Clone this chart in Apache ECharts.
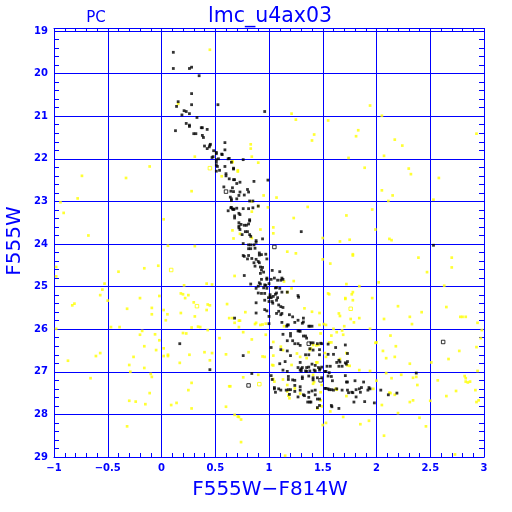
<!DOCTYPE html>
<html>
<head>
<meta charset="utf-8">
<script src="https://cdn.jsdelivr.net/npm/echarts@6/dist/echarts.min.js"></script>
<style>html,body{margin:0;padding:0;background:#fff}#c{width:512px;height:512px}</style>
</head>
<body>
<div id="c"></div>
<script>
var titleText = 'lmc_u4ax03';
var subText = 'PC';
var xName = 'F555W\u2212F814W';
var yName = 'F555W';
var xRange = [-1, 3];
var yRange = [19, 29];

var blackStars = [
[0.11,19.50],[0.11,19.88],[0.26,19.88],[0.28,19.85],[0.35,20.05],[0.28,20.47],[0.155,20.66],[0.14,20.77],[0.28,20.73],[0.525,20.73],
[0.21,20.87],[0.23,20.89],[0.26,20.94],[0.19,20.97],[0.33,21.03],[0.13,21.34],[0.23,21.17],[0.26,21.21],[0.26,21.24],[0.30,21.41],
[0.32,21.41],[0.37,21.27],[0.38,21.27],[0.425,21.31],[0.38,21.45],[0.39,21.50],[0.40,21.70],[0.45,21.68],[0.455,21.66],[0.445,21.72],
[0.425,21.76],[0.485,21.81],[0.51,21.85],[0.51,21.88],[0.565,21.90],[0.59,21.62],[0.59,21.79],[0.62,22.0],[0.47,21.97],[0.51,22.02],
[0.51,22.08],[0.53,22.0],[0.52,22.18],[0.59,22.18],[0.65,22.08],[0.67,22.24],[0.96,20.89],
[0.48,21.95],[0.51,22.15],[0.56,21.89],[0.63,21.99],[0.67,22.22],[0.54,22.27],[0.51,22.29],[0.60,22.35],[0.60,22.40],[0.63,22.47],
[0.67,22.49],[0.70,22.58],[0.58,22.66],[0.66,22.68],[0.67,22.77],[0.64,22.90],[0.65,22.98],[0.70,22.94],[0.72,22.86],[0.65,23.14],
[0.62,23.22],[0.66,23.18],[0.675,23.18],[0.70,23.16],[0.68,23.34],[0.72,23.28],[0.72,23.58],[0.72,23.62],
[0.76,22.02],[0.73,22.55],[0.68,22.49],[0.86,22.53],[0.99,22.50],[0.645,22.76],[0.73,22.78],[0.77,22.85],[0.81,22.78],[0.80,22.72],
[0.65,22.94],[0.82,22.99],[0.85,22.99],[0.645,23.15],[0.67,23.19],[0.76,23.17],[0.81,23.17],[0.85,23.15],[0.90,23.11],[0.68,23.39],
[0.73,23.31],[0.82,23.43],[0.82,23.46],[0.72,23.50],[0.74,23.54],[0.77,23.56],[0.79,23.56],[0.81,23.53],[0.73,23.66],[0.78,23.71],
[0.80,23.71],[0.82,23.78],[0.83,23.82],[0.75,23.78],[1.30,23.71],[0.94,23.88],[0.88,23.92],[0.88,23.96],[0.76,23.99],[0.81,24.02],
[0.83,24.02],[0.86,24.02],[0.81,24.11],[0.83,24.11],[0.87,24.10],[0.91,24.21],[0.91,24.26],[0.76,24.27],[0.77,24.29],[0.81,24.27],
[0.84,24.34],[0.80,24.35],[0.93,24.25],[0.97,24.24],[0.98,24.35],[0.88,24.36],[0.86,24.44],[0.90,24.41],[0.91,24.44],[0.87,24.52],
[0.92,24.54],[0.94,24.55],[0.93,24.61],[0.95,24.66],[0.77,24.74],[0.92,24.69],[1.10,24.65],[1.03,24.62],[0.98,24.80],[0.98,24.83],
[1.02,24.83],[0.93,24.83],[1.05,24.80],[1.08,24.85],[1.11,24.85],[1.12,24.80],[1.13,24.83],[0.91,24.91],[0.92,24.94],[0.90,24.99],
[0.96,24.96],[0.97,24.97],[1.0,24.93],[0.83,24.94],[0.88,25.04],[0.95,25.03],[0.98,25.04],[1.06,25.03],[1.07,25.02],[1.10,25.04],
[0.90,25.15],[0.93,25.16],[0.96,25.16],[1.01,25.19],[1.01,25.24],[1.06,25.18],[1.07,25.15],[1.04,25.23],[1.08,25.26],[0.995,25.26],
[1.02,25.26],[1.27,25.21],[1.275,25.25],[2.53,24.03],[1.12,25.13],[1.17,25.13],
[0.96,25.32],[1.0,25.35],[1.03,25.35],[1.035,25.39],[1.07,25.32],[1.09,25.43],[1.11,25.47],[1.13,25.49],[0.88,25.38],[0.96,25.54],
[0.98,25.57],[0.88,25.62],[1.09,25.58],[1.07,25.63],[1.0,25.70],[1.11,25.66],[1.12,25.63],[1.19,25.66],[1.22,25.71],[1.24,25.84],
[1.27,25.79],[1.32,25.74],[1.37,25.93],[1.38,25.93],[1.40,25.93],[1.31,25.86],[1.32,25.83],[1.12,25.84],[1.0,25.87],[1.17,25.90],
[1.165,25.93],[1.18,25.90],[1.27,26.04],[1.28,26.04],[1.29,26.05],[1.20,26.10],[1.20,26.16],[1.13,26.12],[1.32,26.16],[1.34,26.16],
[1.35,26.21],[1.17,26.27],[1.22,26.27],[1.24,26.34],[1.27,26.34],[1.39,26.32],[1.41,26.32],[1.48,26.33],[1.49,26.34],[1.45,26.34],
[1.02,26.43],[1.11,26.48],[1.17,26.51],[1.29,26.38],[1.38,26.46],[1.41,26.49],[1.47,26.48],[1.55,26.35],[1.62,26.43],[1.71,26.37],
[1.55,26.59],[1.60,26.59],[1.37,26.60],[1.34,26.60],[1.47,26.60],[1.73,26.57],[1.20,26.62],[1.29,26.78],[1.10,26.81],[1.15,26.76],
[1.27,26.90],[1.30,26.93],[1.31,26.90],[1.35,26.90],[1.37,26.89],[1.40,26.82],[1.43,26.85],[1.46,26.90],[1.49,26.89],[1.475,26.93],
[1.54,26.87],[1.57,26.87],[1.63,26.78],[1.65,26.73],[1.66,26.77],[1.71,26.79],[1.72,26.82],[1.73,26.76],[1.68,26.87],[1.65,26.87],
[1.13,26.96],[1.17,26.99],[1.29,26.96],[1.30,26.98],[1.34,26.98],[1.35,26.99],[1.38,26.98],[1.42,26.96],[1.43,26.98],[1.47,26.96],
[1.52,26.99],[1.53,26.99],[1.56,27.02],[0.84,27.04],[0.76,26.62],[1.02,27.09],[1.03,27.18],[1.18,27.11],[1.18,27.18],[1.24,27.20],
[1.22,27.19],[1.24,27.32],[1.31,27.12],[1.31,27.16],[1.37,27.10],[1.41,27.14],[1.41,27.19],[1.45,27.14],[1.49,27.14],[1.55,27.10],
[1.58,27.11],[1.59,27.21],[1.72,27.24],[1.73,27.24],[1.80,27.21],[1.88,27.24],[1.71,27.09],[2.37,27.03],[1.05,27.37],[1.05,27.40],
[1.06,27.48],[1.09,27.40],[1.11,27.43],[1.16,27.43],[1.18,27.42],[1.20,27.42],[1.24,27.46],[1.29,27.35],[1.29,27.43],[1.32,27.54],
[1.33,27.56],[1.37,27.48],[1.40,27.45],[1.43,27.43],[1.43,27.54],[1.45,27.64],[1.47,27.64],[1.37,27.60],[1.27,27.59],[1.19,27.53],
[1.38,27.71],[1.36,27.71],[1.39,27.71],[1.45,27.84],[1.47,27.79],[1.52,27.39],[1.53,27.39],[1.55,27.40],[1.56,27.42],[1.58,27.42],
[1.60,27.43],[1.63,27.40],[1.68,27.43],[1.73,27.43],[1.74,27.49],[1.77,27.48],[1.78,27.49],[1.81,27.42],[1.84,27.40],[1.85,27.48],
[1.86,27.37],[1.92,27.43],[1.93,27.37],[1.94,27.40],[1.81,27.59],[1.79,27.71],[1.89,27.70],[1.98,27.73],[2.04,27.43],[2.11,27.54],
[2.19,27.50],[1.58,27.79],[1.585,27.82],[1.65,27.86],
[0.17,26.34],[0.45,26.95],[0.68,25.74]
];

var yellowStars = [
[0.45,19.44],[0.155,20.71],[0.31,21.95],[-0.11,22.18],[0.66,22.08],
[-0.74,22.40],[-0.33,22.45],[-0.78,22.93],[-0.94,23.02],[-0.91,23.27],[0.28,22.76],[0.02,23.42],[-0.68,23.80],[0.06,24.04],[0.31,24.05],
[0.66,23.68],[0.67,23.87],[0.71,22.27],[0.56,22.41],[-0.98,24.54],[-0.98,24.76],[-0.40,24.65],[-0.16,24.57],[-0.03,24.51],[0.68,24.75],
[-0.53,24.93],[-0.55,25.07],[-0.57,25.20],[-0.20,25.27],[-0.02,25.22],[0.21,24.97],[0.18,25.16],[0.20,25.18],[0.25,25.20],[0.22,25.27],
[0.42,24.93],[0.47,24.95],
[1.21,20.94],[1.25,21.08],[1.55,21.10],[1.94,20.75],[2.05,20.99],[1.42,21.43],[1.40,21.57],[1.83,21.33],[1.81,21.47],[2.17,21.55],
[2.24,21.69],[0.83,21.66],[0.83,21.76],[0.84,21.95],[0.90,22.09],[1.74,21.98],[2.07,21.93],[1.89,22.21],[2.30,22.23],[2.93,21.41],
[0.66,22.06],[0.71,22.30],[2.32,22.36],[2.58,22.45],[2.05,22.74],[2.15,22.86],[2.11,22.99],[2.53,22.96],[0.95,22.86],[1.07,22.91],
[0.84,23.0],[0.99,23.14],[0.90,23.11],[1.36,23.13],[1.96,23.19],[0.84,23.24],[1.72,23.33],[1.23,23.39],[1.04,23.61],[1.04,23.75],
[0.92,23.66],[0.84,23.86],[0.73,23.76],[1.99,23.66],[1.75,23.90],[1.66,23.94],[1.50,23.86],[2.12,23.88],[2.14,23.91],[1.17,24.18],
[1.25,24.22],[1.78,24.24],[1.78,24.27],[1.57,24.46],[1.50,24.36],[2.39,24.32],[2.70,24.32],[2.70,24.55],[2.47,24.66],[2.02,24.90],
[1.72,24.94],[1.84,24.99],[2.63,24.98],[1.23,24.87],[1.14,24.88],[1.21,25.04],[1.17,25.13],[1.55,25.16],[1.71,25.27],[1.78,25.13],
[1.96,25.27],
[-0.50,25.33],[-0.83,25.44],[-0.81,25.40],[-0.32,25.52],[-0.09,25.50],[-0.09,25.65],[0.02,25.55],[0.055,25.65],[0.04,25.79],[0.30,25.37],
[0.43,25.42],[0.45,25.44],[0.31,25.70],[0.18,25.62],[0.42,25.55],[0.61,25.41],[0.66,25.74],[0.72,25.80],[0.72,25.95],[-0.47,25.95],
[-0.39,25.95],[-0.98,25.99],[-0.18,26.04],[-0.20,26.13],[-0.06,26.12],[-0.02,26.26],[0.20,26.09],[0.23,26.10],[0.28,25.96],[0.34,25.94],
[0.36,25.95],[0.43,26.02],[0.54,26.21],[-0.16,26.40],[0.02,26.45],[-0.05,26.49],[0.02,26.63],[0.06,26.63],[0.06,26.60],[-0.57,26.56],
[-0.61,26.63],[-0.87,26.74],[-0.26,26.65],[-0.30,26.84],[-0.29,27.0],[-0.16,26.91],[0.17,26.79],[0.26,26.60],[0.40,26.54],[0.45,26.73],
[0.47,26.56],[0.60,26.59],[-0.66,27.15],[-0.10,27.05],[-0.09,27.12],[0.28,27.26],[0.25,27.43],[0.64,27.34],[-0.11,27.50],[-0.30,27.68],
[-0.24,27.70],[-0.15,27.76],[0.09,27.78],[0.14,27.73],[0.28,27.86],[0.60,27.82],[0.68,28.01],[0.72,28.06],[-0.32,28.28],
[0.63,25.74],[0.68,25.85],[0.73,25.80],[0.87,25.88],[0.88,25.85],[0.92,25.90],[0.94,25.89],[0.97,25.87],[0.76,26.07],[0.78,25.60],
[0.84,26.24],[0.81,26.54],[0.94,26.64],[0.96,26.65],[0.90,27.07],[0.76,27.13],[0.63,27.34],[0.71,28.05],[0.74,28.12],[0.74,28.65],
[0.97,26.13],[1.04,26.30],[1.11,26.41],[1.13,26.49],[1.04,26.62],[1.03,26.84],[1.04,26.85],[1.04,27.17],[1.05,27.23],[1.14,25.93],
[1.13,27.18],[1.17,27.31],[1.17,27.46],[1.18,27.56],[1.19,27.62],[1.21,26.84],[1.26,26.57],[1.29,26.65],[1.24,27.39],[1.29,27.51],
[1.35,26.68],[1.38,26.49],[1.39,26.45],[1.41,26.37],[1.44,26.38],[1.46,26.37],[1.33,25.51],[1.40,25.59],[1.47,25.62],[1.47,25.90],
[1.48,26.10],[1.51,25.88],[1.53,25.90],[1.56,25.18],[1.56,26.31],[1.58,26.31],[1.52,26.56],[1.53,26.65],[1.44,26.78],[1.45,26.78],
[1.41,27.07],[1.42,27.24],[1.41,27.28],[1.49,27.31],[1.48,27.48],[1.48,27.67],[1.45,27.86],[1.49,27.81],[1.57,27.93],[1.50,28.25],
[1.53,28.20],[1.58,26.15],[1.63,26.07],[1.60,25.99],[1.66,25.69],[1.65,25.63],[1.68,26.03],[1.69,26.13],[1.70,25.93],[1.71,25.29],
[1.76,25.76],[1.78,25.32],[1.77,25.18],[1.79,25.84],[1.84,25.74],[1.94,25.99],[1.66,26.70],[1.72,26.56],[1.75,26.86],[1.73,26.85],
[1.84,26.96],[1.94,26.98],[1.62,27.40],[1.63,27.42],[1.72,27.57],[1.69,28.06],[1.85,28.23],[1.93,28.15],[1.99,26.32],[2.0,26.31],
[2.06,26.51],[2.09,26.68],[2.17,26.65],[2.18,26.40],[2.13,26.15],[2.07,25.76],[2.20,25.46],[2.33,25.88],[2.42,25.60],[2.31,25.71],
[2.65,25.48],[2.78,25.71],[2.80,25.71],[2.83,25.71],[2.94,25.85],[2.98,26.02],[2.97,26.21],[2.93,26.42],[2.94,26.98],[2.77,26.51],
[2.67,26.70],[2.51,26.78],[2.31,26.81],[2.23,27.07],[2.14,27.15],[2.09,27.03],[2.0,27.21],[1.97,27.40],[2.05,27.78],[2.12,27.49],
[2.13,27.50],[2.17,27.54],[2.20,27.97],[2.34,27.14],[2.37,27.12],[2.38,27.31],[2.34,27.67],[2.31,27.71],[2.50,27.68],[2.57,27.20],
[2.65,27.57],[2.74,27.45],[2.82,27.10],[2.83,27.15],[2.83,27.23],[2.85,27.25],[2.87,27.23],[2.92,27.43],[2.93,27.71],[2.95,27.67],
[2.40,28.08],[2.46,28.28],[2.07,28.50],[2.73,28.94],[1.15,28.97]
];

var blackOpen = [[0.60,22.77],[1.05,24.07],[1.37,26.34],[1.48,27.20],[0.81,27.32],[2.62,26.30]];
var yellowOpen = [[0.45,22.22],[0.09,24.61],[0.33,25.46],[1.76,25.52],[0.91,27.29]];

var BLUE = '#0000ff';
var chart = echarts.init(document.getElementById('c'), null, {renderer: 'canvas'});

function fmt(v) { return String(v).replace('-', '\u2212'); }

var labelStyle = {color: BLUE, fontSize: 10, fontWeight: 'bold', fontFamily: 'DejaVu Sans'};
var lineStyle = {color: BLUE, width: 1};

chart.setOption({
  animation: false,
  backgroundColor: '#ffffff',
  grid: {left: 54, right: 28, top: 31, bottom: 55, containLabel: false},
  xAxis: [{
    type: 'value', position: 'bottom', min: xRange[0], max: xRange[1], interval: 0.5,
    axisLine: {show: true, onZero: false, lineStyle: lineStyle},
    axisTick: {show: true, inside: true, length: 4, lineStyle: lineStyle},
    minorTick: {show: true, splitNumber: 5, length: 4, lineStyle: lineStyle},
    splitLine: {show: true, lineStyle: lineStyle},
    axisLabel: Object.assign({margin: 6, formatter: fmt}, labelStyle)
  }, {
    type: 'value', position: 'top', offset: 3, min: xRange[0], max: xRange[1], interval: 0.5,
    axisLine: {show: true, onZero: false, lineStyle: lineStyle},
    axisTick: {show: true, inside: true, length: 3, lineStyle: lineStyle},
    minorTick: {show: true, splitNumber: 5, length: 3, lineStyle: lineStyle},
    splitLine: {show: false},
    axisLabel: {show: false}
  }],
  yAxis: [{
    type: 'value', position: 'left', inverse: true, min: yRange[0], max: yRange[1], interval: 1,
    axisLine: {show: true, onZero: false, lineStyle: lineStyle},
    axisTick: {show: true, inside: true, length: 5, lineStyle: lineStyle},
    minorTick: {show: true, splitNumber: 5, length: 5, lineStyle: lineStyle},
    splitLine: {show: true, lineStyle: lineStyle},
    axisLabel: Object.assign({margin: 6}, labelStyle)
  }, {
    type: 'value', position: 'right', inverse: true, min: yRange[0], max: yRange[1], interval: 1,
    axisLine: {show: true, onZero: false, lineStyle: lineStyle},
    axisTick: {show: true, inside: true, length: 5, lineStyle: lineStyle},
    minorTick: {show: true, splitNumber: 5, length: 5, lineStyle: lineStyle},
    splitLine: {show: false},
    axisLabel: {show: false}
  }],
  series: [{
    type: 'scatter', data: yellowStars, symbol: 'rect', symbolSize: 2.7,
    itemStyle: {color: '#ffff00'}, silent: true
  }, {
    type: 'scatter', data: yellowOpen, symbol: 'rect', symbolSize: 3.5,
    itemStyle: {color: 'rgba(0,0,0,0)', borderColor: '#ffff00', borderWidth: 1}, silent: true
  }, {
    type: 'scatter', data: blackStars, symbol: 'rect', symbolSize: 2.8,
    itemStyle: {color: '#000000'}, silent: true
  }, {
    type: 'scatter', data: blackOpen, symbol: 'rect', symbolSize: 3.5,
    itemStyle: {color: 'rgba(0,0,0,0)', borderColor: '#000000', borderWidth: 1}, silent: true
  }],
  graphic: [
    {type: 'text', x: 270, y: 17, style: {text: titleText, fill: BLUE, fontSize: 20.5, fontFamily: 'DejaVu Sans', align: 'center', verticalAlign: 'middle'}},
    {type: 'text', x: 96, y: 18, style: {text: subText, fill: BLUE, fontSize: 15, fontFamily: 'DejaVu Sans', align: 'center', verticalAlign: 'middle'}},
    {type: 'text', x: 270, y: 490, style: {text: xName, fill: BLUE, fontSize: 20, fontFamily: 'DejaVu Sans', align: 'center', verticalAlign: 'middle'}},
    {type: 'text', x: 15, y: 241, rotation: Math.PI / 2, style: {text: yName, fill: BLUE, fontSize: 20, fontFamily: 'DejaVu Sans', align: 'center', verticalAlign: 'middle'}}
  ]
});
</script>
</body>
</html>
